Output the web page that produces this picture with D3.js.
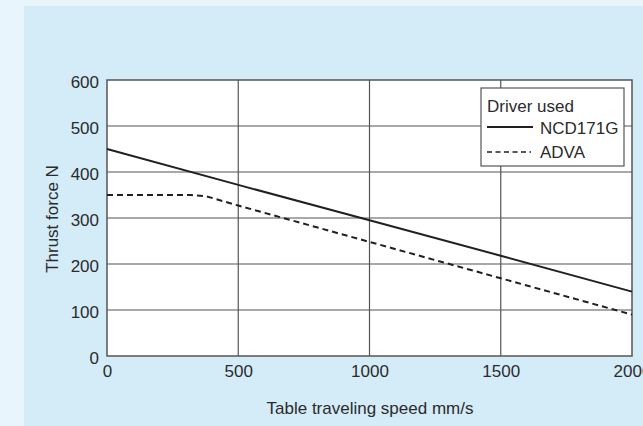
<!DOCTYPE html>
<html><head><meta charset="utf-8">
<script src="https://cdn.jsdelivr.net/npm/d3@7"></script>
<style>
html,body{margin:0;padding:0;background:#e9f5fc;}
svg{display:block;font-family:"Liberation Sans",Arial,Helvetica,sans-serif;}
</style></head>
<body><svg id="c" width="643" height="426"></svg>
<script>
// ---- data ----
const xTicks = [0, 500, 1000, 1500, 2000];
const yTicks = [0, 100, 200, 300, 400, 500, 600];
const ncdSpeed = [0, 500, 1000, 1500, 2000];
const ncdThrust = [450, 372, 295, 218, 140];
const advaSpeed = [0, 320, 380, 500, 1000, 1500, 2000];
const advaThrust = [350, 350, 347, 327, 248, 169, 90];
const legendTitle = "Driver used";
const seriesNames = ["NCD171G", "ADVA"];
const xTitle = "Table traveling speed mm/s";
const yTitle = "Thrust force N";

const svg = d3.select("#c");
const W = 643, H = 426;
const FS = 17;
const ink = "#231f20", txt = "#2b2b2b";

svg.append("rect").attr("x", 0).attr("y", 0).attr("width", W).attr("height", H).attr("fill", "#e9f5fc");
svg.append("rect").attr("x", 24).attr("y", 6).attr("width", W - 24).attr("height", H - 6).attr("fill", "#d4ebf8");

const x = d3.scaleLinear().domain([0, 2000]).range([107, 632]);
const y = d3.scaleLinear().domain([0, 600]).range([356, 80]);

const g = svg.append("g");
g.append("rect").attr("x", x(0)).attr("y", y(600)).attr("width", x(2000) - x(0)).attr("height", y(0) - y(600)).attr("fill", "#fff");

// grid
g.selectAll(".vg").data(xTicks.slice(1, -1)).join("line")
  .attr("x1", d => x(d)).attr("x2", d => x(d)).attr("y1", y(0)).attr("y2", y(600))
  .attr("stroke", "#555").attr("stroke-width", 1.2);
g.selectAll(".hg").data(yTicks.slice(1, -1)).join("line")
  .attr("y1", d => y(d)).attr("y2", d => y(d)).attr("x1", x(0)).attr("x2", x(2000))
  .attr("stroke", "#555").attr("stroke-width", 1.2);

// axes (labels only, via d3 axes)
const xAxis = d3.axisBottom(x).tickValues(xTicks).tickSize(0).tickPadding(9).tickFormat(d3.format("d"));
const yAxis = d3.axisLeft(y).tickValues(yTicks).tickSize(0).tickPadding(8).tickFormat(d3.format("d"));
const gx = g.append("g").attr("transform", `translate(0,${y(0)})`).call(xAxis);
const gy = g.append("g").attr("transform", `translate(${x(0)},0)`).call(yAxis);
[gx, gy].forEach(a => {
  a.select(".domain").remove();
  a.selectAll("text").attr("font-size", FS).attr("fill", txt).attr("font-family", "Liberation Sans, Arial, sans-serif");
});
gy.selectAll("text").attr("dy", "0.42em");
gx.selectAll("text").attr("dy", "0.72em");

// frame
g.append("rect").attr("x", x(0)).attr("y", y(600)).attr("width", x(2000) - x(0)).attr("height", y(0) - y(600))
  .attr("fill", "none").attr("stroke", "#555").attr("stroke-width", 1.5);

// series
const line = d3.line().x(d => x(d[0])).y(d => y(d[1]));
g.append("path").datum(d3.zip(ncdSpeed, ncdThrust)).attr("d", line)
  .attr("fill", "none").attr("stroke", ink).attr("stroke-width", 2);
g.append("path").datum(d3.zip(advaSpeed, advaThrust)).attr("d", line)
  .attr("fill", "none").attr("stroke", ink).attr("stroke-width", 2).attr("stroke-dasharray", "6,4");

// legend
const lg = svg.append("g");
lg.append("rect").attr("x", 481).attr("y", 88).attr("width", 143).attr("height", 78)
  .attr("fill", "#fff").attr("stroke", "#555").attr("stroke-width", 1.2);
lg.append("text").attr("x", 487).attr("y", 112).attr("font-size", FS).attr("fill", txt).text(legendTitle);
lg.append("line").attr("x1", 487).attr("x2", 533).attr("y1", 127).attr("y2", 127).attr("stroke", ink).attr("stroke-width", 2);
lg.append("text").attr("x", 540).attr("y", 134).attr("font-size", FS).attr("fill", txt).text(seriesNames[0]);
lg.append("line").attr("x1", 487).attr("x2", 531).attr("y1", 152).attr("y2", 152).attr("stroke", ink).attr("stroke-width", 1.5).attr("stroke-dasharray", "5,3.5");
lg.append("text").attr("x", 540).attr("y", 158).attr("font-size", FS).attr("fill", txt).text(seriesNames[1]);

// titles
svg.append("text").attr("x", 370).attr("y", 414).attr("text-anchor", "middle").attr("font-size", FS).attr("fill", txt).text(xTitle);
svg.append("text").attr("transform", "translate(58,219) rotate(-90)").attr("text-anchor", "middle").attr("font-size", FS).attr("fill", txt).text(yTitle);
</script></body></html>
